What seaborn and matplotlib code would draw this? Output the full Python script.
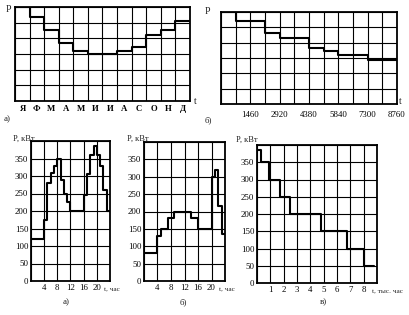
import numpy as np
import pandas as pd
import matplotlib
matplotlib.use("Agg")
import matplotlib.pyplot as plt
import seaborn as sns

# ---------------- data ----------------
months = ["Я", "Ф", "М", "А", "М", "И", "И", "А", "С", "О", "Н", "Д"]
month_levels = [6.0, 5.37, 4.53, 3.73, 3.22, 3.0, 3.0, 3.22, 3.47, 4.21, 4.53, 5.12]

year_edges = [0, 730, 2190, 2920, 4380, 5110, 5840, 7300, 8760]
year_levels = [6.0, 5.41, 4.63, 4.33, 3.67, 3.46, 3.22, 2.85]
year_ticks = [1460, 2920, 4380, 5840, 7300, 8760]

winter_edges = [0, 4, 5, 6, 7, 8, 9, 10, 11, 12, 16, 17, 18, 19, 20, 21, 22, 23, 24]
winter_load = [120, 175, 280, 310, 330, 350, 290, 250, 225, 200, 245, 305, 360, 385, 360, 330, 260, 200]

summer_edges = [0, 4, 5, 7, 9, 14, 16, 20, 21, 22, 23, 24]
summer_load = [80, 130, 150, 180, 200, 180, 150, 300, 320, 215, 135]

dur_edges = [0, 0.3, 0.9, 1.75, 2.45, 4.8, 6.75, 8.0, 8.76]
dur_load = [385, 350, 300, 250, 200, 150, 100, 50]

day_ticks = [4, 8, 12, 16, 20]
load_ticks = [0, 50, 100, 150, 200, 250, 300, 350]
dur_ticks = [1, 2, 3, 4, 5, 6, 7, 8]

# ---------------- style ----------------
sns.set_style("white")
plt.rcParams["font.family"] = ["Liberation Serif", "DejaVu Serif"]
plt.rcParams["axes.edgecolor"] = "black"

W, H = 410, 315
fig = plt.figure(figsize=(W / 100, H / 100), dpi=100)


def add_ax(l, r, t, b):
    return fig.add_axes([l / W, 1 - b / H, (r - l) / W, (b - t) / H])


def step_df(edges, levels):
    return pd.DataFrame({"x": edges, "y": list(levels) + [levels[-1]]})


def step(ax, edges, levels, lw=1.5):
    sns.lineplot(data=step_df(edges, levels), x="x", y="y", ax=ax,
                 drawstyle="steps-post", color="black", lw=lw,
                 estimator=None, sort=False)
    ax.set_xlabel("")
    ax.set_ylabel("")


def frame(ax):
    for s in ax.spines.values():
        s.set_visible(True)
        s.set_color("black")
        s.set_linewidth(1.3)
    ax.grid(True, which="major", color="black", lw=0.8)
    ax.set_axisbelow(True)
    ax.tick_params(which="both", length=0, labelsize=6.3, pad=2, colors="black")


# ---- top a) months ----
ax1 = add_ax(15, 190, 7, 101)
step(ax1, list(range(13)), month_levels)
ax1.set_xlim(0, 12)
ax1.set_ylim(0, 6)
ax1.set_xticks(range(13))
ax1.set_xticklabels([])
ax1.set_xticks(np.arange(12) + 0.5, minor=True)
ax1.set_xticklabels(months, minor=True, fontsize=5.5, fontweight="bold")
ax1.set_yticks(range(7))
ax1.set_yticklabels([])
frame(ax1)
ax1.tick_params(which="minor", pad=3)
fig.text(8 / W, 1 - 9 / H, "P", fontsize=7, ha="center", va="center")
fig.text(195 / W, 1 - 101 / H, "t", fontsize=7, ha="center", va="center")
fig.text(7 / W, 1 - 119 / H, "а)", fontsize=6.5, ha="center", va="center")

# ---- top b) hours of year ----
ax2 = add_ax(221, 397, 12, 104)
step(ax2, year_edges, year_levels)
ax2.set_xlim(0, 8760)
ax2.set_ylim(0, 6)
grid_x = [730 * i for i in range(13)]
ax2.set_xticks(grid_x)
ax2.set_xticklabels([str(v) if v in year_ticks else "" for v in grid_x])
ax2.set_yticks(range(7))
ax2.set_yticklabels([])
frame(ax2)
ax2.tick_params(pad=5)
fig.text(207 / W, 1 - 12 / H, "P", fontsize=7, ha="center", va="center")
fig.text(400 / W, 1 - 101 / H, "t", fontsize=7, ha="center", va="center")
fig.text(208 / W, 1 - 120 / H, "б)", fontsize=6.5, ha="center", va="center")


def day_axes(ax, edges, load):
    step(ax, edges, load)
    ax.set_xlim(0, 24)
    ax.set_ylim(0, 400)
    ax.set_xticks(range(0, 25, 4))
    ax.set_xticklabels([str(v) if v in day_ticks else "" for v in range(0, 25, 4)])
    ax.set_yticks(range(0, 401, 50))
    ax.set_yticklabels([str(v) if v in load_ticks else "" for v in range(0, 401, 50)])
    frame(ax)
    ax.text(0.93, -0.045, "t, час", transform=ax.transAxes, fontsize=5.2,
            ha="left", va="top")


# ---- bottom a) winter day ----
ax3 = add_ax(31, 110, 141, 281)
day_axes(ax3, winter_edges, winter_load)
fig.text(24 / W, 1 - 139 / H, "P, кВт", fontsize=6, ha="center", va="center")
fig.text(66 / W, 1 - 302 / H, "а)", fontsize=6.5, ha="center", va="center")

# ---- bottom b) summer day ----
ax4 = add_ax(144, 225, 142, 281)
day_axes(ax4, summer_edges, summer_load)
fig.text(138 / W, 1 - 139 / H, "P, кВт", fontsize=6, ha="center", va="center")
fig.text(183 / W, 1 - 302 / H, "б)", fontsize=6.5, ha="center", va="center")

# ---- bottom c) duration curve ----
ax5 = add_ax(257, 377, 145, 283)
step(ax5, dur_edges, dur_load)
ax5.set_xlim(0, 9)
ax5.set_ylim(0, 400)
ax5.set_xticks(range(10))
ax5.set_xticklabels([str(v) if v in dur_ticks else "" for v in range(10)])
ax5.set_yticks(range(0, 401, 50))
ax5.set_yticklabels([str(v) if v in load_ticks else "" for v in range(0, 401, 50)])
frame(ax5)
ax5.text(0.955, -0.045, "t, тыс. час", transform=ax5.transAxes, fontsize=5.2,
         ha="left", va="top")
fig.text(247 / W, 1 - 140 / H, "P, кВт", fontsize=6, ha="center", va="center")
fig.text(323 / W, 1 - 302 / H, "в)", fontsize=6.5, ha="center", va="center")

fig.savefig("out.png", dpi=100, facecolor="white")
